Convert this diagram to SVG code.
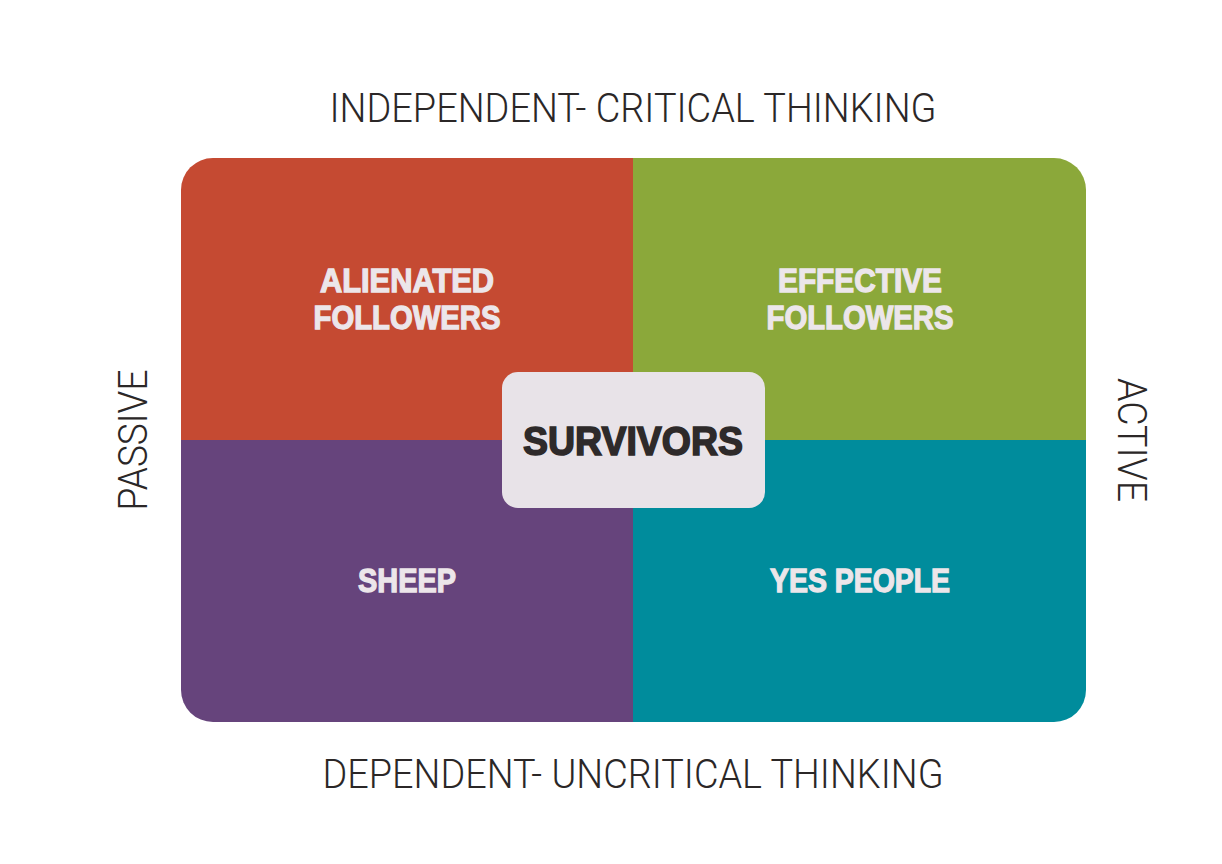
<svg xmlns="http://www.w3.org/2000/svg" width="1222" height="864" viewBox="0 0 1222 864">
<style>
.axis{font-family:Roboto,"Liberation Sans",Arial,sans-serif;font-weight:300;font-size:41px;fill:#2b2727;text-anchor:middle}
.q{font-family:"Liberation Sans",Arial,sans-serif;font-weight:bold;font-size:33px;fill:#ece6ea;stroke:#ece6ea;stroke-width:1.3;text-anchor:middle}
.c{font-family:"Liberation Sans",Arial,sans-serif;font-weight:bold;font-size:40px;fill:#2e2a2a;stroke:#2e2a2a;stroke-width:1.6;text-anchor:middle}
</style>
<defs>
<clipPath id="clip"><rect x="181" y="158" width="905" height="564" rx="32" ry="32"/></clipPath>
</defs>
<rect width="1222" height="864" fill="#ffffff"/>
<g clip-path="url(#clip)">
<g id="alienated"><rect x="181" y="158" width="452" height="282" fill="#c54a32"/>
<text class="q" x="407" y="292" textLength="174" lengthAdjust="spacingAndGlyphs">ALIENATED</text>
<text class="q" x="407" y="329" textLength="187" lengthAdjust="spacingAndGlyphs">FOLLOWERS</text></g>
<g id="effective"><rect x="633" y="158" width="453" height="282" fill="#8ba83a"/>
<text class="q" x="860" y="292" textLength="164" lengthAdjust="spacingAndGlyphs">EFFECTIVE</text>
<text class="q" x="860" y="329" textLength="187" lengthAdjust="spacingAndGlyphs">FOLLOWERS</text></g>
<g id="sheep"><rect x="181" y="440" width="452" height="282" fill="#66447c"/>
<text class="q" x="407" y="592" textLength="98" lengthAdjust="spacingAndGlyphs">SHEEP</text></g>
<g id="yespeople"><rect x="633" y="440" width="453" height="282" fill="#008c9c"/>
<text class="q" x="860" y="592" textLength="180" lengthAdjust="spacingAndGlyphs">YES PEOPLE</text></g>
</g>
<g id="survivors"><rect x="502" y="372" width="263" height="136" rx="16" ry="16" fill="#e8e3e8"/>
<text class="c" x="633" y="455" textLength="220" lengthAdjust="spacingAndGlyphs">SURVIVORS</text></g>
<g id="labels">
<text class="axis" x="633" y="122" textLength="607" lengthAdjust="spacingAndGlyphs">INDEPENDENT- CRITICAL THINKING</text>
<text class="axis" x="633" y="788" textLength="621" lengthAdjust="spacingAndGlyphs">DEPENDENT- UNCRITICAL THINKING</text>
<text class="axis" transform="translate(147,440) rotate(-90)" x="0" y="0" textLength="141" lengthAdjust="spacingAndGlyphs">PASSIVE</text>
<text class="axis" transform="translate(1118,440) rotate(90)" x="0" y="0" textLength="124" lengthAdjust="spacingAndGlyphs">ACTIVE</text>
</g>
<g id="connectors"/>
</svg>
